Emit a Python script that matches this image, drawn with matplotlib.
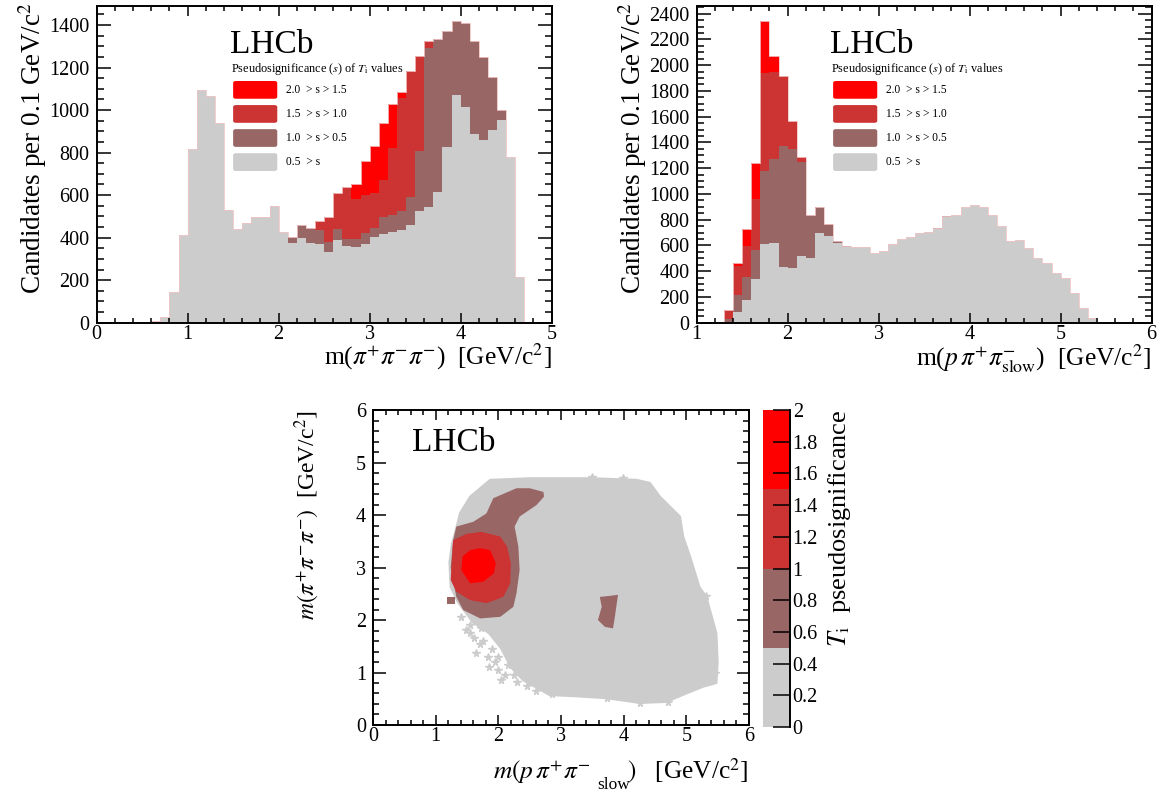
import numpy as np
import matplotlib
matplotlib.use("Agg")
import matplotlib.pyplot as plt
from matplotlib.patches import FancyBboxPatch
from matplotlib.ticker import MultipleLocator

plt.rcParams["font.family"] = ["Liberation Serif", "DejaVu Serif"]
plt.rcParams["mathtext.fontset"] = "stix"

# colours of the four pseudosignificance classes (low -> high)
colors = ["#cccccc", "#996666", "#cc3333", "#ff0000"]
legend_labels = ["2.0  > s > 1.5", "1.5  > s > 1.0", "1.0  > s > 0.5", "0.5  > s"]

# ---- m(pi+ pi- pi-) histogram, 0.1 GeV bins from 0 to 5 ----
m3pi_lo, m3pi_hi = 0.0, 5.0
m3pi_grey = [0, 1, 1, 2, 2, 3, 9, 25, 144, 413,
             817, 1095, 1067, 938, 530, 439, 471, 497, 497, 547,
             425, 373, 400, 376, 369, 334, 389, 361, 355, 370,
             402, 417, 425, 436, 460, 527, 546, 615, 827, 1071,
             1016, 888, 860, 907, 954, 780, 216, 0, 0, 0]
m3pi_brown = [0] * 21 + [30, 58, 68, 67, 44, 50, 34, 40, 50,
                         45, 79, 82, 89, 130, 282, 745, 718, 546, 347,
                         393, 436, 392, 248, 47, 0, 0, 0, 0, 0]
m3pi_dkred = [0] * 24 + [42, 121, 171, 242, 185, 179,
                         162, 175, 313, 532, 594, 446, 36, 0, 0, 0] + [0] * 10
m3pi_red = [0] * 28 + [74, 160, 222, 267, 209, 28] + [0] * 16

# ---- m(p pi+ pi-_slow) histogram, 0.1 GeV bins from 1 to 6 ----
mppi_lo, mppi_hi = 1.0, 6.0
mppi_grey = [0, 3, 5, 0, 83, 176, 340, 612, 617, 435,
             425, 518, 500, 695, 674, 617, 591, 586, 591, 544,
             560, 612, 648, 666, 697, 708, 731, 824, 835, 902,
             915, 899, 840, 752, 638, 640, 578, 505, 461, 384,
             350, 228, 111, 34, 3, 0, 0, 0, 0, 0]
mppi_brown = [0, 0, 0, 29, 130, 177, 225, 567, 656, 939,
              923, 729, 335, 202, 93, 18, 5, 0, 0, 0,
              0, 0, 0, 0, 0, 0, 5, 5] + [0] * 22
mppi_dkred = [0, 0, 0, 69, 228, 243, 394, 760, 676, 539, 220, 41] + [0] * 38
mppi_red = [0, 0, 0, 0, 20, 135, 283, 402, 125] + [0] * 41

# ---- 2D map: outlines of the regions (GeV) ----
grey_x = [1.87, 1.55, 1.39, 1.32, 1.26, 1.22, 1.24, 1.35, 1.44, 1.60, 1.85, 2.05,
          2.20, 2.40, 2.82, 3.20, 3.73, 4.26, 4.68, 5.00, 5.27, 5.48, 5.50, 5.48,
          5.32, 5.21, 5.06, 4.95, 4.90, 4.58, 4.42, 4.21, 3.50, 2.50]
grey_y = [4.67, 4.35, 4.04, 3.71, 3.45, 3.10, 2.63, 2.35, 2.20, 1.95, 1.75, 1.45,
          1.10, 0.85, 0.57, 0.55, 0.51, 0.42, 0.44, 0.60, 0.73, 0.80, 1.20, 1.75,
          2.44, 2.63, 3.21, 3.59, 3.97, 4.35, 4.61, 4.67, 4.70, 4.70]
stray_x = [1.49, 1.62, 1.70, 1.83, 1.95, 2.00, 2.11, 2.30, 2.85, 3.73, 4.26, 4.70,
           3.49, 3.99, 5.32, 5.45, 1.40, 1.55, 1.55, 1.75, 1.90, 1.65, 2.00, 2.15,
           2.25, 2.45, 2.60, 1.85, 2.05, 2.35, 1.72]
stray_y = [1.81, 1.65, 1.55, 1.30, 1.20, 1.05, 0.95, 0.82, 0.59, 0.52, 0.42, 0.44,
           4.72, 4.70, 2.45, 1.00, 2.05, 1.90, 1.75, 1.60, 1.45, 1.38, 1.30, 1.15,
           0.95, 0.75, 0.65, 1.10, 0.85, 1.00, 1.85]
brown_x = [2.72, 2.50, 2.29, 1.92, 1.81, 1.60, 1.33, 1.28, 1.24, 1.33, 1.44, 1.71,
           2.03, 2.24, 2.29, 2.34, 2.32, 2.26, 2.34, 2.61, 2.73]
brown_y = [4.44, 4.51, 4.51, 4.32, 4.03, 3.87, 3.78, 3.52, 3.00, 2.44, 2.19, 2.03,
           2.06, 2.25, 2.51, 2.95, 3.40, 3.78, 3.97, 4.19, 4.35]
dkred_x = [1.28, 1.49, 1.73, 2.03, 2.14, 2.20, 2.19, 2.08, 1.81, 1.55, 1.33, 1.24,
           1.26, 1.27]
dkred_y = [3.52, 3.64, 3.68, 3.59, 3.40, 3.08, 2.70, 2.44, 2.32, 2.38, 2.54, 2.76,
           3.14, 3.37]
red_x = [1.71, 1.87, 1.96, 1.93, 1.76, 1.55, 1.41, 1.43, 1.55]
red_y = [3.37, 3.33, 3.08, 2.89, 2.73, 2.70, 2.95, 3.21, 3.33]
blob_x = [3.62, 3.78, 3.91, 3.86, 3.83, 3.70, 3.59, 3.65]
blob_y = [2.44, 2.46, 2.48, 2.06, 1.84, 1.87, 2.00, 2.25]
dot_x = [1.18, 1.31, 1.31, 1.18]
dot_y = [2.30, 2.30, 2.44, 2.44]

# colour scale
levels = [0.0, 0.5, 1.0, 1.5, 2.0]


def root_ticks(ax, xmaj, xmin, ymaj, ymin, ylen=10):
    ax.xaxis.set_major_locator(MultipleLocator(xmaj))
    ax.xaxis.set_minor_locator(MultipleLocator(xmin))
    ax.yaxis.set_major_locator(MultipleLocator(ymaj))
    ax.yaxis.set_minor_locator(MultipleLocator(ymin))
    ax.tick_params(which="both", direction="in", top=True, right=True,
                   labelsize=14.5, width=1.1)
    ax.tick_params(axis="y", which="major", length=ylen, pad=5)
    ax.tick_params(axis="y", which="minor", length=ylen / 2)
    ax.tick_params(axis="x", which="major", length=7, pad=1.5)
    ax.tick_params(axis="x", which="minor", length=3.5)
    for s in ax.spines.values():
        s.set_linewidth(1.4)


def stacked(ax, lo, hi, layers):
    edges = np.linspace(lo, hi, len(layers[0]) + 1)
    bottom = np.zeros(len(layers[0]))
    for vals, c in zip(layers, colors):
        top = bottom + np.array(vals)
        ax.stairs(top, edges, baseline=bottom, fill=True, color=c, lw=0)
        bottom = top
    ax.stairs(bottom, edges, color="#f2c4c4", lw=0.6)


def hist_legend(ax):
    ax.text(0.293, 0.852, "LHCb", transform=ax.transAxes, fontsize=24)
    ax.text(0.296, 0.79, r"Pseudosignificance ($s$) of $T_{\rm i}$ values",
            transform=ax.transAxes, fontsize=8.8)
    for k, lab in enumerate(legend_labels):
        yc = 0.735 - k * 0.076
        box = FancyBboxPatch((0.302, yc - 0.026), 0.093, 0.052,
                             boxstyle="round,pad=0.002,rounding_size=0.006",
                             transform=ax.transAxes, color=colors[3 - k], lw=0)
        ax.add_patch(box)
        ax.text(0.416, yc, lab, transform=ax.transAxes, fontsize=8.3,
                va="center")


fig = plt.figure(figsize=(11.63, 7.92), dpi=100)

# left histogram
ax1 = fig.add_axes([0.0831, 0.5926, 0.3912, 0.3999])
stacked(ax1, m3pi_lo, m3pi_hi, [m3pi_grey, m3pi_brown, m3pi_dkred, m3pi_red])
ax1.set_xlim(m3pi_lo, m3pi_hi)
ax1.set_ylim(0, 1490)
root_ticks(ax1, 1, 0.2, 200, 50)
hist_legend(ax1)
ax1.set_ylabel(r"Candidates per 0.1 GeV/c$^2$", fontsize=19.5, loc="top")
ax1.yaxis.set_label_coords(-0.105, 1.012)
ax1.set_xlabel(r"m($\pi^{+}\pi^{-}\pi^{-}$)  [GeV/c$^2$]", fontsize=18.4, loc="right")
ax1.xaxis.set_label_coords(1.0, -0.06)

# right histogram
ax2 = fig.add_axes([0.599, 0.5926, 0.3912, 0.3999])
stacked(ax2, mppi_lo, mppi_hi, [mppi_grey, mppi_brown, mppi_dkred, mppi_red])
ax2.set_xlim(mppi_lo, mppi_hi)
ax2.set_ylim(0, 2460)
root_ticks(ax2, 1, 0.2, 200, 50)
hist_legend(ax2)
ax2.set_ylabel(r"Candidates per 0.1 GeV/c$^2$", fontsize=19.5, loc="top")
ax2.yaxis.set_label_coords(-0.105, 1.012)
ax2.set_xlabel(r"m($p\,\pi^{+}\pi^{-}_{\rm slow}$)  [GeV/c$^2$]", fontsize=18.4,
               loc="right")
ax2.xaxis.set_label_coords(1.0, -0.06)

# 2D map
ax3 = fig.add_axes([0.3207, 0.0846, 0.3233, 0.3977])
ax3.fill(grey_x, grey_y, color=colors[0], lw=1.5, ec=colors[0])
ax3.plot(stray_x, stray_y, "*", color=colors[0], ms=5.5, ls="none")
ax3.fill(brown_x, brown_y, color=colors[1], lw=0)
ax3.fill(blob_x, blob_y, color=colors[1], lw=0)
ax3.fill(dot_x, dot_y, color=colors[1], lw=0)
ax3.fill(dkred_x, dkred_y, color=colors[2], lw=0)
ax3.fill(red_x, red_y, color=colors[3], lw=0)
ax3.set_xlim(0, 6)
ax3.set_ylim(0, 6)
root_ticks(ax3, 1, 0.2, 1, 0.2, ylen=9)
ax3.text(0.104, 0.87, "LHCb", transform=ax3.transAxes, fontsize=24)
ax3.set_xlabel(r"$m(p\,\pi^{+}\pi^{-}\qquad)$   [GeV/c$^2$]",
               fontsize=18.3, loc="right")
ax3.xaxis.set_label_coords(1.0, -0.1)
ax3.text(0.64, -0.203, "slow", transform=ax3.transAxes, fontsize=12.5,
         ha="center", va="baseline")
ax3.set_ylabel(r"$m(\pi^{+}\pi^{-}\pi^{-})$  [GeV/c$^2$]", fontsize=17, loc="top")
ax3.yaxis.set_label_coords(-0.135, 1.0)

# colour bar
cax = fig.add_axes([0.656, 0.0820, 0.0232, 0.4003])
for lo, hi, c in zip(levels[:-1], levels[1:], colors):
    cax.bar(0.5, hi - lo, bottom=lo, width=1.0, color=c, lw=0)
cax.set_xlim(0, 1)
cax.set_ylim(0, 2)
for s in ["left", "top", "bottom"]:
    cax.spines[s].set_visible(False)
cax.spines["right"].set_linewidth(1.4)
cax.set_xticks([])
cax.yaxis.tick_right()
cax.yaxis.set_major_locator(MultipleLocator(0.2))
cax.yaxis.set_major_formatter(matplotlib.ticker.FormatStrFormatter("%g"))
cax.tick_params(axis="y", direction="in", length=12, width=1.1, labelsize=14.5, pad=2)
cax.set_ylabel(r"$T_{\rm i}$  pseudosignificance", fontsize=19, loc="top")
cax.yaxis.set_label_position("right")
cax.yaxis.set_label_coords(2.35, 1.0)

fig.savefig("out.png", dpi=100)
